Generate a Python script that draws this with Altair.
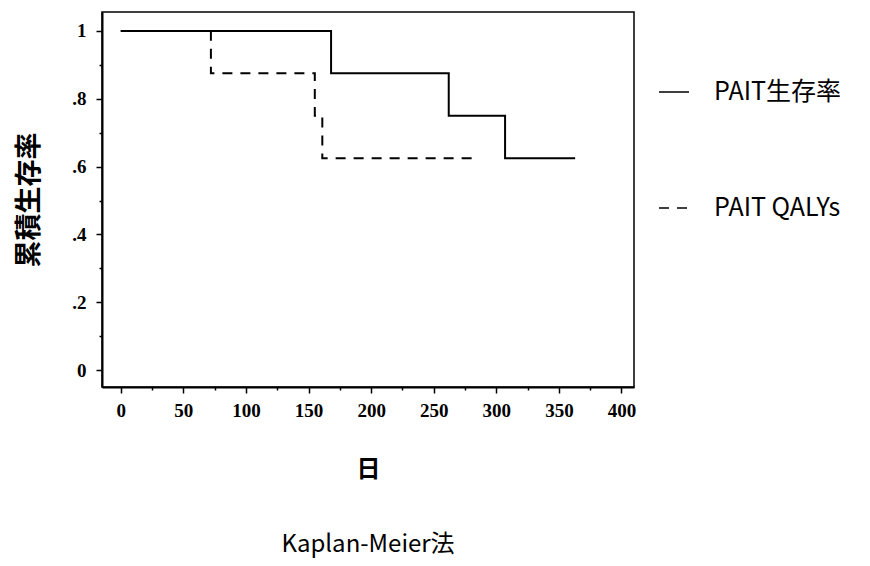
import altair as alt
import pandas as pd

# Data
days_surv = [0, 168, 262, 307, 363]
rate_surv = [1.0, 0.875, 0.75, 0.625, 0.625]
days_qaly = [0, 72, 155, 161, 285]
rate_qaly = [1.0, 0.875, 0.75, 0.625, 0.625]
series_names = ["PAIT生存率", "PAIT QALYs"]

x_ticks = [0, 25, 50, 75, 100, 125, 150, 175, 200, 225, 250, 275, 300, 325, 350, 375, 400]
y_ticks = [0, 0.1, 0.2, 0.3, 0.4, 0.5, 0.6, 0.7, 0.8, 0.9, 1.0]

df = pd.concat([
    pd.DataFrame({"day": days_surv, "rate": rate_surv, "series": series_names[0], "order": range(len(days_surv))}),
    pd.DataFrame({"day": days_qaly, "rate": rate_qaly, "series": series_names[1], "order": range(len(days_qaly))}),
])

tick_font = "Liberation Serif"
cjk = "Noto Sans CJK JP"

x_axis = alt.Axis(
    values=x_ticks,
    labelExpr="datum.value % 50 == 0 ? datum.label : ''",
    tickSize={"condition": {"test": "datum.value % 50 == 0", "value": 6}, "value": 3},
    tickColor="black", tickWidth=1.5,
    labelFont=tick_font, labelFontWeight="bold", labelFontSize=19, labelColor="black",
    labelPadding=8, domainColor="black", domainWidth=2, grid=False,
    title="日", titleFont=cjk, titleFontSize=24, titleFontWeight="bold", titleColor="black",
    titlePadding=37,
)
y_axis = alt.Axis(
    values=y_ticks,
    labelExpr="round(datum.value*10) % 2 == 0 ? (datum.value == 0 ? '0' : datum.value == 1 ? '1' : replace(format(datum.value, '.1f'), '0.', '.')) : ''",
    tickSize={"condition": {"test": "round(datum.value*10) % 2 == 0", "value": 6}, "value": 3},
    tickColor="black", tickWidth=1.5,
    labelFont=tick_font, labelFontWeight="bold", labelFontSize=19, labelColor="black",
    labelPadding=10, domainColor="black", domainWidth=2, grid=False,
    title="累積生存率", titleFont=cjk, titleFontSize=27, titleFontWeight="bold", titleColor="black",
    titlePadding=28,
)

chart = alt.Chart(df).mark_line(interpolate="step-after", color="black", strokeWidth=2).encode(
    x=alt.X("day:Q", scale=alt.Scale(domain=[-15, 410], nice=False, zero=False), axis=x_axis),
    y=alt.Y("rate:Q", scale=alt.Scale(domain=[-0.05, 1.056], nice=False, zero=False), axis=y_axis),
    order="order:Q",
    strokeDash=alt.StrokeDash(
        "series:N",
        scale=alt.Scale(domain=series_names, range=[[1, 0], [10, 8]]),
        legend=alt.Legend(
            title=None, orient="none", legendX=556, legendY=64,
            symbolType="stroke", symbolSize=900, symbolStrokeWidth=1.5, symbolStrokeColor="black",
            labelFont=cjk, labelFontSize=25, labelColor="black", labelOffset=24,
            rowPadding=87, labelLimit=300,
        ),
    ),
).properties(
    width=532, height=375,
    title=alt.TitleParams("Kaplan-Meier法", orient="bottom", anchor="middle", font=cjk,
                          fontSize=24, fontWeight="normal", color="black", offset=52),
    autosize=alt.AutoSizeParams(type="none"),
    padding={"left": 102, "top": 12, "right": 236, "bottom": 179},
).configure(background="white").configure_view(stroke="black", strokeWidth=1.5)

chart.save("out.html", embed_options={"renderer": "svg", "actions": False})
